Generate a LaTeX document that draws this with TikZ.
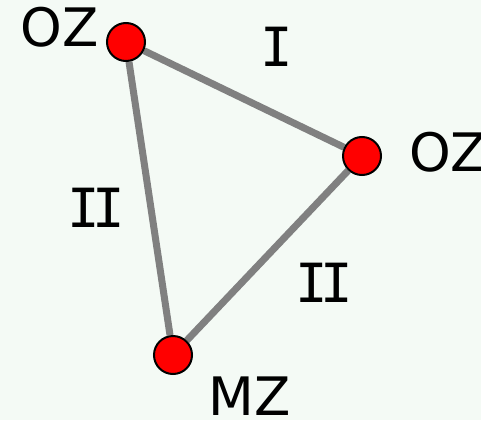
\documentclass[tikz,border=0pt]{standalone}
\usepackage{fontspec}
\setmainfont{DejaVu Sans}
\newfontfamily\numfont{DejaVu Sans Mono}
\usetikzlibrary{backgrounds}
\definecolor{bgcol}{RGB}{244,250,245}

\begin{document}
\begin{tikzpicture}[x=1pt, y=-1pt,
		vert/.style={circle, fill=red, draw=black, line width=2pt, minimum size=38pt, inner sep=0pt},
		edge/.style={draw=gray, line width=7pt},
		lab/.style={font=\fontsize{53}{60}\selectfont, inner sep=0pt},
		num/.style={font=\numfont\fontsize{54}{60}\selectfont, inner sep=0pt}]
		\useasboundingbox (0,0) rectangle (481,420);
		% 顶点
		\node[vert] (a) at (126,42) {};
		\node[vert] (b) at (362,156) {};
		\node[vert] (c) at (173,355) {};
		% 标签
		\node[lab] (la) at (60,27) {OZ};
		\node[lab, anchor=west] (lb) at (409,152) {OZ};
		\node[lab] (lc) at (250,396) {MZ};
		\node[num] (nab) at (277,47) {I};
		\node[num] (nac) at (96,208) {I\kern-8pt I};
		\node[num] (nbc) at (324,283) {I\kern-8pt I};
		% 边
		\begin{scope}[on background layer]
			\fill[bgcol] (0,0) rectangle (481,420);
			\draw[edge] (a) -- (b);
			\draw[edge] (b) -- (c);
			\draw[edge] (c) -- (a);
		\end{scope}
	\end{tikzpicture}
\end{document}
